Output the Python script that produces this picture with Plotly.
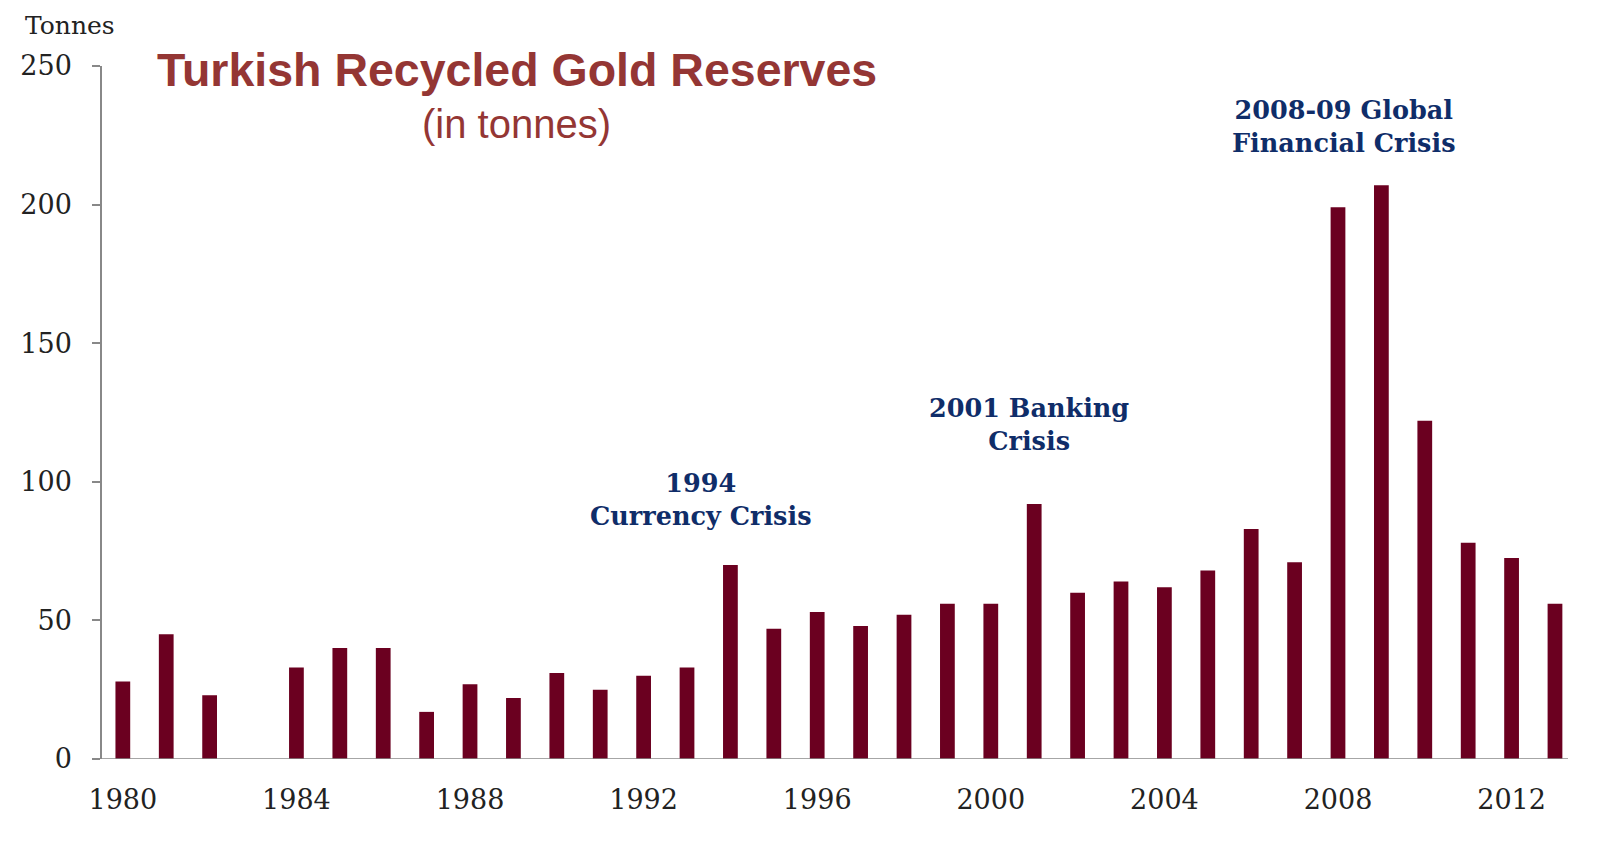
import plotly.graph_objects as go

years = list(range(1980, 2014))
tonnes = [28, 45, 23, 0, 33, 40, 40, 17, 27, 22, 31, 25, 30, 33, 70, 47, 53, 48, 52, 56,
          56, 92, 60, 64, 62, 68, 83, 71, 199, 207, 122, 78, 72.5, 56]
tick_years = [1980, 1984, 1988, 1992, 1996, 2000, 2004, 2008, 2012]
y_ticks = [0, 50, 100, 150, 200, 250]

bar_color = "#6B0020"
navy = "#0F2D69"
title_color = "#943634"
serif = "DejaVu Serif"

# plot area in page pixels: x 94..1568, y 66..759 (page has 8px body margin)
fig = go.Figure()
fig.add_trace(go.Bar(x=years, y=tonnes, width=0.34,
                     marker=dict(color=bar_color, line=dict(width=0))))

fig.update_layout(
    width=1605, height=825,
    margin=dict(l=86, r=45, t=58, b=74),
    paper_bgcolor="white", plot_bgcolor="white",
    showlegend=False,
    font=dict(family=serif, color="#222222"),
    xaxis=dict(range=[1979.52, 2013.3], tickmode="array", tickvals=tick_years,
               ticktext=[str(t) for t in tick_years],
               showgrid=False, zeroline=False, showline=False, ticks="",
               ticklabelstandoff=22,
               tickfont=dict(family=serif, size=27, color="#222222")),
    yaxis=dict(range=[0, 250], tickmode="array", tickvals=y_ticks,
               showgrid=False, zeroline=False, showline=True, linecolor="#888888",
               linewidth=1.5, ticks="outside", ticklen=8, tickcolor="#888888",
               tickwidth=1.5, ticklabelstandoff=15,
               tickfont=dict(family=serif, size=27, color="#222222")),
)

fig.add_shape(type="line", xref="paper", yref="y", x0=-0.005, x1=1, y0=0, y1=0,
              line=dict(color="#888888", width=1.5))

fig.add_annotation(xref="paper", yref="paper", x=(15 - 94) / 1474, y=1 + (58 - 1) / 693,
                   xanchor="left", yanchor="top", text="Tonnes", showarrow=False,
                   font=dict(family=serif, size=25, color="#222222"))

fig.add_annotation(xref="paper", yref="paper", x=(511 - 94) / 1474, y=1 - (70 - 66) / 693,
                   xanchor="center", yanchor="middle",
                   text="<b>Turkish Recycled Gold Reserves</b>", showarrow=False,
                   font=dict(family="Liberation Sans", size=46.5, color=title_color))
fig.add_annotation(xref="paper", yref="paper", x=(511 - 94) / 1474, y=1 - (124 - 66) / 693,
                   xanchor="center", yanchor="middle",
                   text="(in tonnes)", showarrow=False,
                   font=dict(family="Liberation Sans", size=40, color=title_color))

notes = [
    (1993.33, 93.6, "1994<br>Currency Crisis"),
    (2000.87, 120.7, "2001 Banking<br>Crisis"),
    (2008.14, 228.0, "2008-09 Global<br>Financial Crisis"),
]
for x, y, t in notes:
    fig.add_annotation(x=x, y=y, xref="x", yref="y", text="<b>" + t + "</b>",
                       showarrow=False, xanchor="center", yanchor="middle",
                       font=dict(family=serif, size=25.5, color=navy))

fig.write_html("out.html")
